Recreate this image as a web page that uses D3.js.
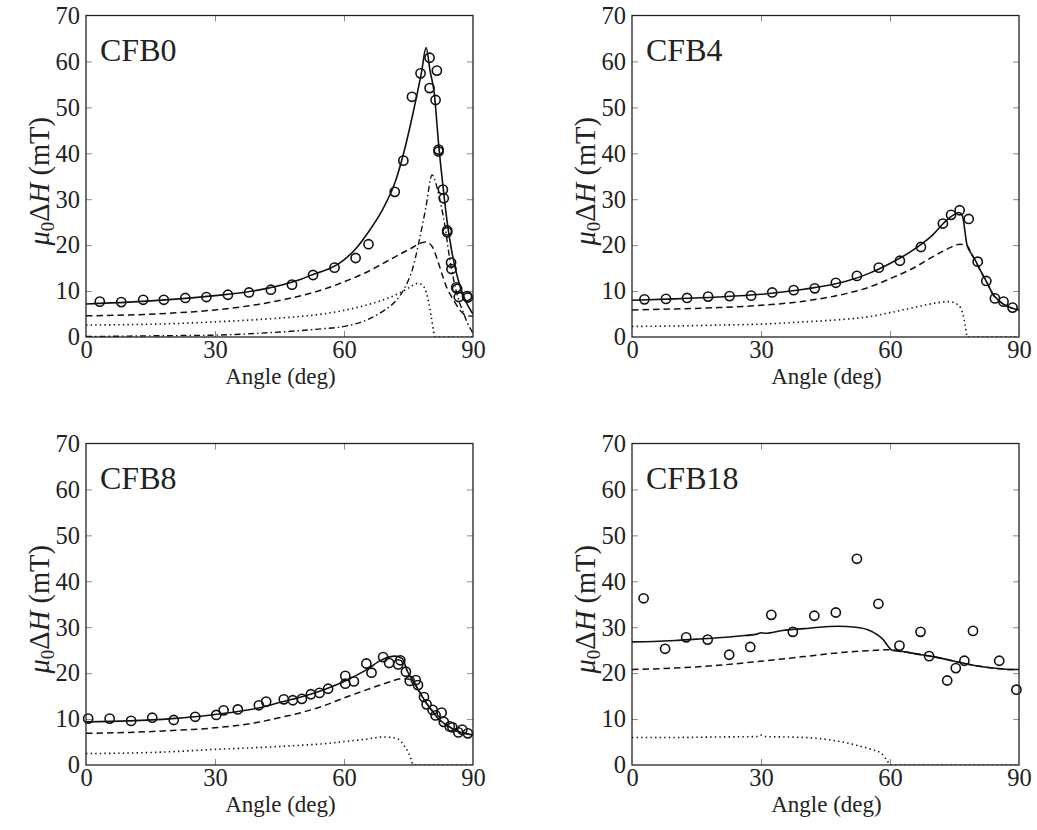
<!DOCTYPE html>
<html><head><meta charset="utf-8">
<script src="https://cdn.jsdelivr.net/npm/d3@7"></script>
<style>
html,body{margin:0;padding:0;background:#fff;}
svg{display:block;}
svg text{font-family:"Liberation Serif","Times New Roman","DejaVu Serif",serif !important;fill:#222;}
</style></head>
<body>
<svg id="chart" width="1037" height="830" font-family="Liberation Serif, Times New Roman, DejaVu Serif, serif"></svg>
<script>
// ---------- DATA ----------
const xTicks = [0, 30, 60, 90];
const yTicks = [0, 10, 20, 30, 40, 50, 60, 70];
const panelNames = ["CFB0", "CFB4", "CFB8", "CFB18"];

// CFB0
const cfb0ObsAngle = [3.2,8.2,13.3,18.1,23.1,28.0,33.0,37.9,43.0,47.9,52.8,57.8,62.7,65.7,71.8,73.8,75.8,77.8,79.9,81.6,79.9,81.3,82.0,82.0,83.0,83.2,84.0,84.0,84.9,85.0,86.1,86.3,86.7,88.6,88.8];
const cfb0ObsWidth = [7.7,7.6,8.1,8.1,8.5,8.7,9.2,9.7,10.3,11.4,13.5,15.1,17.2,20.2,31.6,38.4,52.3,57.4,60.8,58.0,54.2,51.6,40.8,40.4,32.1,30.2,23.2,22.8,16.2,14.8,10.8,10.5,8.7,8.9,8.6];
const cfb0Total = [[0,7.2],[10,7.6],[20,8.2],[30,9.0],[40,10.2],[50,12.6],[53.6,13.9],[55,14.3],[60,16.8],[63,19.5],[66,23.3],[69,27.8],[72,34],[74,40.5],[76,48.5],[78,57.5],[79.1,63],[80,58],[81,53],[82,42],[83,33],[84,25],[85,19],[86,14.5],[87,11],[88,8.5],[89,6.5],[90,5]];
const cfb0Dashed = [[0,4.6],[10,4.8],[20,5.2],[30,5.9],[40,7.1],[50,9.0],[55,10.3],[60,12.0],[65,14.0],[70,16.5],[75,19.0],[79,20.7],[80.5,19.7],[82,16],[83,13.1],[84,10.5],[85,8.8],[86,7.2],[87,5.8],[88,4.9],[89,4.6],[90,4.5]];
const cfb0Dotted = [[0,2.6],[10,2.7],[20,2.9],[30,3.3],[40,3.8],[50,4.5],[55,5.0],[60,5.8],[65,6.9],[70,8.4],[73,9.6],[75,10.7],[77.2,11.7],[78.5,11],[79.2,9.5],[80.3,4.4],[81,0.5],[81.2,0],[90,0]];
const cfb0DashDot = [[0,0.1],[10,0.2],[20,0.3],[30,0.4],[40,0.8],[50,1.4],[55,1.8],[60,2.3],[65,3.6],[68,5],[70,6.2],[72,7.8],[74,10.5],[76,15],[77.5,21],[79,28],[80.5,35.3],[81.5,33],[82.5,29],[83.5,24],[84.5,17.5],[85.5,12.5],[86.5,8.5],[87.7,5.5],[88.7,3],[89.6,1.5],[90,0.8]];

// CFB4
const cfb4ObsAngle = [2.9,7.9,12.8,17.7,22.7,27.7,32.6,37.6,42.5,47.4,52.3,57.4,62.3,67.2,72.3,74.2,76.2,78.3,80.4,82.4,84.4,86.4,88.5];
const cfb4ObsWidth = [8.2,8.3,8.5,8.8,8.9,9.0,9.7,10.2,10.6,11.8,13.3,15.1,16.6,19.6,24.7,26.6,27.6,25.7,16.4,12.2,8.4,7.7,6.4];
const cfb4Total = [[0,8.0],[10,8.3],[20,8.7],[30,9.3],[40,10.4],[50,12.2],[55,13.8],[60,16.0],[65,18.7],[70,22.3],[73,25.3],[75,26.7],[76,27.1],[76.8,26.5],[77.9,20.1],[79,18.0],[80,16.4],[81,14.5],[82,12.8],[83,11],[84,9.2],[85,8.2],[86,7.4],[87,6.8],[88,6.4],[89,6.1],[90,5.9]];
const cfb4Dashed = [[0,5.9],[10,6.1],[20,6.4],[30,6.9],[40,7.8],[50,9.5],[55,10.8],[60,12.7],[65,14.8],[70,17.5],[73,19],[76.3,20.2],[77.9,19.9],[79,18.0],[80,16.4],[81,14.5],[82,12.8],[83,11],[84,9.2],[85,8.2],[86,7.4],[87,6.8],[88,6.4],[89,6.1],[90,5.9]];
const cfb4Dotted = [[0,2.3],[10,2.4],[20,2.6],[30,2.8],[40,3.3],[50,3.9],[55,4.4],[60,5.3],[65,6.3],[70,7.3],[73.7,7.7],[75.5,7.2],[76.5,6.2],[77,4.8],[77.5,2.5],[78,0],[90,0]];

// CFB8
const cfb8ObsAngle = [0.5,5.5,10.5,15.4,20.4,25.4,30.3,32.0,35.3,40.2,41.9,46.0,48.1,50.2,52.3,54.3,56.3,60.3,60.3,62.3,65.2,66.4,69.1,70.5,72.6,73.1,74.4,75.3,76.7,77.2,78.6,79.2,80.6,81.3,82.7,83.2,84.6,85.2,86.6,87.5,88.8];
const cfb8ObsWidth = [10.1,10.1,9.6,10.3,9.8,10.5,10.9,11.9,12.1,13.0,13.8,14.3,14.1,14.4,15.4,15.7,16.6,19.4,17.7,18.2,22.1,20.1,23.5,22.2,21.9,22.8,20.3,18.3,18.5,17.4,14.8,13.2,12.0,10.8,11.4,9.4,8.4,8.2,7.1,7.7,6.9];
const cfb8Total = [[0,9.4],[10,9.6],[20,10.1],[30,11.0],[40,12.4],[45,13.6],[50,14.8],[55,16.3],[60,18.2],[65,20.6],[69,23.0],[71.8,23.7],[73.5,23.2],[74.8,20.3],[76,18.4],[77.5,16],[79,13.7],[80.5,11.8],[82,10.0],[84,8.6],[86,7.5],[88,6.9],[90,6.5]];
const cfb8Dashed = [[0,6.9],[10,7.1],[20,7.5],[30,8.1],[40,9.3],[45,10.3],[50,11.4],[55,12.8],[60,14.6],[65,16.3],[70,17.9],[73.7,18.8],[75.5,18.6],[76,18.4],[77.5,16],[79,13.7],[80.5,11.8],[82,10.0],[84,8.6],[86,7.5],[88,6.9],[90,6.5]];
const cfb8Dotted = [[0,2.5],[10,2.6],[20,2.9],[30,3.4],[40,3.8],[50,4.3],[55,4.6],[60,5.1],[65,5.6],[69,6.1],[71,6.0],[72.5,5.7],[74,4.2],[75,2.6],[75.7,1.0],[76.1,0],[90,0]];

// CFB18
const cfb18ObsAngle = [2.7,7.7,12.6,17.6,22.6,27.5,32.4,37.4,42.4,47.4,52.3,57.3,62.2,67.1,69.1,73.3,75.3,77.3,79.3,85.4,89.4];
const cfb18ObsWidth = [36.3,25.3,27.8,27.3,24.0,25.7,32.7,29.0,32.5,33.2,44.9,35.1,26.0,29.0,23.7,18.4,21.1,22.7,29.2,22.7,16.4];
const cfb18Total = [[0,26.8],[5,26.9],[10,27.1],[15,27.4],[20,27.7],[25,28.1],[29,28.5],[30,28.8],[31,28.7],[35,29.3],[40,29.7],[45,30.1],[48,30.2],[52,30.0],[55,29.4],[57,28.4],[58.5,27.2],[59.5,25.9],[60.5,25.0],[63,24.7],[66,24.2],[70,23.6],[75,22.6],[80,21.6],[85,21.0],[88,20.8],[90,20.8]];
const cfb18Dashed = [[0,20.8],[10,21.1],[20,21.7],[30,22.6],[40,23.6],[50,24.6],[55,24.9],[60,25.1],[63,24.7],[66,24.2],[70,23.6],[75,22.6],[80,21.6],[85,21.0],[88,20.8],[90,20.8]];
const cfb18Dotted = [[0,6.0],[10,6.0],[20,6.1],[29.5,6.2],[30,6.5],[31,6.2],[40,6.0],[45,5.6],[50,4.8],[53,4.1],[56,3.3],[58,2.5],[59.3,1.0],[60.2,0],[90,0]];

// ---------- LAYOUT ----------
const FONT = "Liberation Serif, Times New Roman, DejaVu Serif, serif";
const panels = [
  {name: panelNames[0], left: 86,  top: 15.5,  obsX: cfb0ObsAngle,  obsY: cfb0ObsWidth,  total: cfb0Total,  dashed: cfb0Dashed,  dotted: cfb0Dotted,  dashdot: cfb0DashDot},
  {name: panelNames[1], left: 632, top: 15.5,  obsX: cfb4ObsAngle,  obsY: cfb4ObsWidth,  total: cfb4Total,  dashed: cfb4Dashed,  dotted: cfb4Dotted},
  {name: panelNames[2], left: 86,  top: 443.5, obsX: cfb8ObsAngle,  obsY: cfb8ObsWidth,  total: cfb8Total,  dashed: cfb8Dashed,  dotted: cfb8Dotted},
  {name: panelNames[3], left: 632, top: 443.5, obsX: cfb18ObsAngle, obsY: cfb18ObsWidth, total: cfb18Total, dashed: cfb18Dashed, dotted: cfb18Dotted}
];
const W = 387, H = 321.5;
const svg = d3.select("#chart");

panels.forEach((p, i) => {
  const g = svg.append("g").attr("transform", `translate(${p.left},${p.top})`);
  const x = d3.scaleLinear().domain([0, 90]).range([0, W]);
  const y = d3.scaleLinear().domain([0, 70]).range([H, 0]);

  const clipId = "clip" + i;
  g.append("clipPath").attr("id", clipId).append("rect")
    .attr("x", 0).attr("y", 0).attr("width", W).attr("height", H);

  // inward ticks
  const tickCol = "#8a8a8a";
  const tl = 6;
  const styleTicks = a => { a.select(".domain").remove(); a.selectAll("line").attr("stroke", tickCol); };
  g.append("g").call(d3.axisLeft(y).tickValues(yTicks.slice(1, -1)).tickSize(-tl).tickFormat("")).call(styleTicks);
  g.append("g").attr("transform", `translate(${W},0)`)
    .call(d3.axisRight(y).tickValues(yTicks.slice(1, -1)).tickSize(-tl).tickFormat("")).call(styleTicks);
  g.append("g").attr("transform", `translate(0,${H})`)
    .call(d3.axisBottom(x).tickValues(xTicks.slice(1, -1)).tickSize(-tl).tickFormat("")).call(styleTicks);
  g.append("g")
    .call(d3.axisTop(x).tickValues(xTicks.slice(1, -1)).tickSize(-tl).tickFormat("")).call(styleTicks);

  // tick labels
  const styleLabels = a => { a.select(".domain").remove(); a.attr("font-family", FONT);
    a.selectAll("text").attr("font-size", 24.5).attr("font-family", FONT).attr("fill", "#222"); };
  g.append("g").call(d3.axisLeft(y).tickValues(yTicks).tickSize(0).tickPadding(6)).call(styleLabels);
  g.append("g").attr("transform", `translate(0,${H})`)
    .call(d3.axisBottom(x).tickValues(xTicks).tickSize(0).tickPadding(4)).call(styleLabels);

  // axis titles
  g.append("text").attr("x", W / 2 + 1).attr("y", H + 47).attr("text-anchor", "middle")
    .attr("font-family", FONT).attr("font-size", 23).text("Angle (deg)");
  const yl = g.append("text").attr("transform", `translate(-37,${H / 2 + 5}) rotate(-90)`)
    .attr("text-anchor", "middle").attr("font-family", FONT).attr("font-size", 28.5);
  yl.append("tspan").attr("font-style", "italic").text("μ");
  yl.append("tspan").attr("font-size", 19).attr("dy", 5).text("0");
  yl.append("tspan").attr("dy", -5).text("Δ");
  yl.append("tspan").attr("font-style", "italic").text("H");
  yl.append("tspan").text(" (mT)");

  // lines
  const line = d3.line().x(d => x(d[0])).y(d => y(d[1])).curve(d3.curveMonotoneX);
  const lg = g.append("g").attr("clip-path", `url(#${clipId})`).attr("fill", "none").attr("stroke", "#111");
  if (p.dashdot) lg.append("path").datum(p.dashdot).attr("d", line).attr("stroke-width", 1.4).attr("stroke-dasharray", "6,3,1.5,3");
  lg.append("path").datum(p.dotted).attr("d", line).attr("stroke-width", 1.6).attr("stroke-dasharray", "1.4,3.2");
  lg.append("path").datum(p.dashed).attr("d", line).attr("stroke-width", 1.5).attr("stroke-dasharray", "6.5,4");
  lg.append("path").datum(p.total).attr("d", line).attr("stroke-width", 1.6);

  // observations
  g.append("g").selectAll("circle").data(p.obsX.map((a, k) => [a, p.obsY[k]])).join("circle")
    .attr("cx", d => x(d[0])).attr("cy", d => y(d[1])).attr("r", 4.6)
    .attr("fill", "none").attr("stroke", "#111").attr("stroke-width", 1.6);

  // frame
  g.append("rect").attr("width", W).attr("height", H).attr("fill", "none")
    .attr("stroke", "#222").attr("stroke-width", 1.3);

  // panel label
  g.append("text").attr("x", 14).attr("y", 45).attr("font-family", FONT).attr("font-size", 32).text(p.name);
});
</script>
</body></html>
